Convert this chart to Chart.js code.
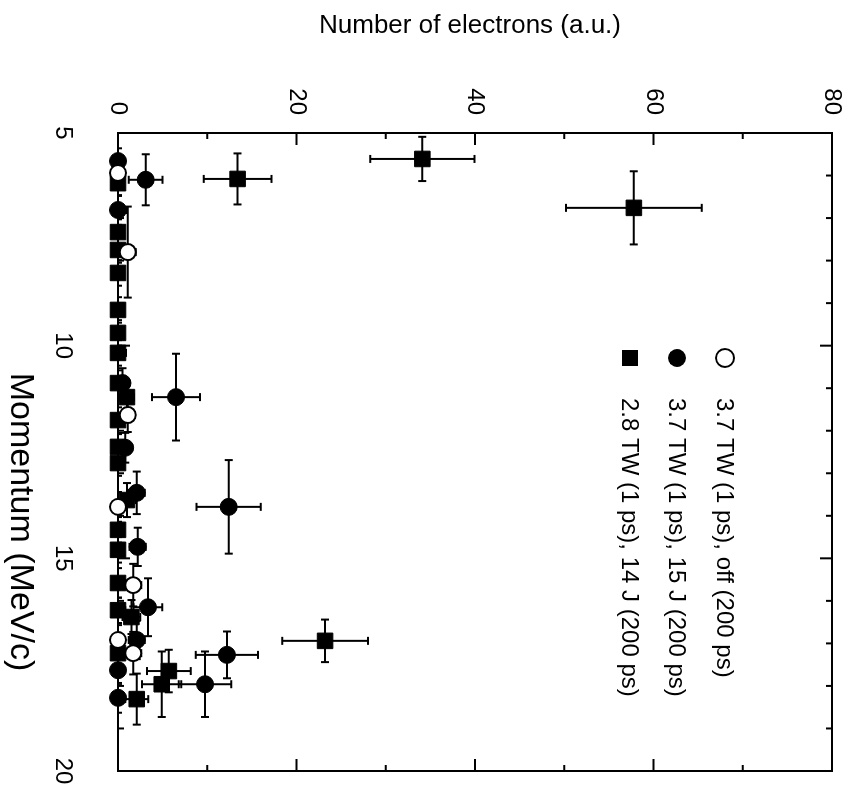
<!DOCTYPE html>
<html>
<head>
<meta charset="utf-8">
<script src="https://cdn.jsdelivr.net/npm/chart.js@4/dist/chart.umd.min.js"></script>
<style>
body { margin: 0; background: #fff; }
#wrap { position: relative; width: 854px; height: 792px; overflow: hidden; background: #fff; }
/* the plot is drawn upright and then turned a quarter turn clockwise */
#c { position: absolute; left: 0; top: 0; width: 792px; height: 854px;
     transform-origin: 0 0; transform: translate(854px, 0) rotate(90deg); }
</style>
</head>
<body>
<div id="wrap"><canvas id="c" width="792" height="854"></canvas></div>
<script>
const momentumTicks = [5, 10, 15, 20];
const electronTicks = [0, 20, 40, 60, 80];

// 3.7 TW (1 ps), off (200 ps)
const offMomentum  = [5.94, 7.80, 11.63, 13.79, 15.63, 16.92, 17.23];
const offElectrons = [0.0, 1.1, 1.1, 0.0, 1.7, 0.0, 1.7];
const offMomErr    = [0.35, 1.07, 0.4, 0.35, 0.5, 0.35, 0.5];
const offElecErr   = [0.4, 0.9, 0.8, 0.4, 0.9, 0.4, 0.9];

// 3.7 TW (1 ps), 15 J (200 ps)
const j15Momentum  = [5.66, 6.10, 6.81, 10.88, 11.21, 12.40, 13.46, 13.79, 14.73, 16.15, 16.92, 17.27, 17.63, 17.96, 18.28];
const j15Electrons = [0.0, 3.1, 0.0, 0.5, 6.5, 0.8, 2.1, 12.4, 2.2, 3.35, 2.1, 12.2, 0.0, 9.75, 0.0];
const j15MomErr    = [0.3, 0.6, 0.35, 0.35, 1.02, 0.35, 0.5, 1.1, 0.45, 0.68, 0.45, 0.55, 0.35, 0.77, 0.35];
const j15ElecErr   = [0.4, 1.9, 0.9, 0.5, 2.7, 0.6, 0.9, 3.6, 0.9, 1.6, 0.9, 3.5, 0.5, 2.95, 0.5];

// 2.8 TW (1 ps), 14 J (200 ps)
const j14Momentum  = [5.61, 6.08, 6.18, 6.76, 7.33, 7.75, 8.29, 9.16, 9.70, 10.17, 10.88, 11.21, 11.75, 12.38, 12.76, 13.63, 14.33, 14.80, 15.58, 16.22, 16.38, 16.94, 17.23, 17.65, 17.96, 18.31];
const j14Electrons = [34.1, 13.4, 0.0, 57.8, 0.0, 0.0, 0.0, 0.0, 0.0, 0.0, 0.0, 1.0, 0.0, 0.0, 0.0, 1.0, 0.0, 0.0, 0.0, 0.0, 1.5, 23.2, 0.0, 5.7, 4.9, 2.1];
const j14MomErr    = [0.52, 0.6, 0.3, 0.86, 0.3, 0.3, 0.3, 0.3, 0.3, 0.3, 0.3, 0.35, 0.3, 0.3, 0.3, 0.4, 0.3, 0.3, 0.35, 0.3, 0.4, 0.5, 0.3, 0.5, 0.77, 0.6];
const j14ElecErr   = [5.85, 3.8, 0.6, 7.6, 0.6, 0.8, 0.6, 0.6, 0.6, 0.9, 0.6, 0.8, 0.8, 0.6, 0.6, 1.0, 0.6, 0.6, 0.8, 0.8, 1.0, 4.8, 0.6, 2.45, 2.2, 1.3];

const FONT = '"Liberation Sans", Arial, Helvetica, sans-serif';
const toPoints = (xs, ys) => xs.map((v, i) => ({ x: v, y: ys[i] }));

// frame with inward ticks, then error bars under the markers
const frameAndErrors = {
    id: 'frameAndErrors',
    beforeDatasetsDraw(chart) {
        const { ctx, chartArea: a, scales: { x, y } } = chart;
        ctx.save();
        ctx.strokeStyle = '#000';
        ctx.lineWidth = 2;
        ctx.strokeRect(a.left, a.top, a.right - a.left, a.bottom - a.top);
        ctx.beginPath();
        for (let m = 5; m <= 20; m++) {
            const len = m % 5 === 0 ? 12 : 6;
            const px = x.getPixelForValue(m);
            ctx.moveTo(px, a.bottom); ctx.lineTo(px, a.bottom - len);
            ctx.moveTo(px, a.top); ctx.lineTo(px, a.top + len);
        }
        for (let e = 0; e <= 80; e += 10) {
            const len = e % 20 === 0 ? 12 : 6;
            const py = y.getPixelForValue(e);
            ctx.moveTo(a.left, py); ctx.lineTo(a.left + len, py);
            ctx.moveTo(a.right, py); ctx.lineTo(a.right - len, py);
        }
        ctx.stroke();

        ctx.beginPath();
        ctx.rect(a.left, a.top, a.right - a.left, a.bottom - a.top);
        ctx.clip();
        const cap = 4;
        chart.data.datasets.forEach(ds => {
            ctx.beginPath();
            ds.data.forEach((p, i) => {
                const px = x.getPixelForValue(p.x), py = y.getPixelForValue(p.y);
                const x0 = x.getPixelForValue(p.x - ds.errX[i]);
                const x1 = x.getPixelForValue(p.x + ds.errX[i]);
                const y0 = y.getPixelForValue(p.y - ds.errY[i]);
                const y1 = y.getPixelForValue(p.y + ds.errY[i]);
                ctx.moveTo(x0, py); ctx.lineTo(x1, py);
                ctx.moveTo(x0, py - cap); ctx.lineTo(x0, py + cap);
                ctx.moveTo(x1, py - cap); ctx.lineTo(x1, py + cap);
                ctx.moveTo(px, y0); ctx.lineTo(px, y1);
                ctx.moveTo(px - cap, y0); ctx.lineTo(px + cap, y0);
                ctx.moveTo(px - cap, y1); ctx.lineTo(px + cap, y1);
            });
            ctx.stroke();
        });
        ctx.restore();
    }
};

// axis titles and the legend
const labels = {
    id: 'labels',
    afterDraw(chart) {
        const ctx = chart.ctx;
        ctx.save();
        ctx.fillStyle = '#000';
        ctx.strokeStyle = '#000';

        ctx.font = '26px ' + FONT;
        ctx.textAlign = 'center';
        ctx.textBaseline = 'alphabetic';
        ctx.save();
        ctx.translate(33, 384);
        ctx.rotate(-Math.PI / 2);
        ctx.fillText('Number of electrons (a.u.)', 0, 0);
        ctx.restore();

        ctx.font = '34px ' + FONT;
        ctx.fillText('Momentum (MeV/c)', 522, 843);

        ctx.font = '24px ' + FONT;
        ctx.textAlign = 'left';
        ctx.textBaseline = 'middle';
        const rowY = [129, 177, 224];
        chart.data.datasets.forEach((ds, i) => {
            const cy = rowY[i], cx = 358;
            ctx.lineWidth = 2;
            ctx.beginPath();
            if (ds.pointStyle === 'rect') {
                ctx.rect(cx - 8, cy - 8, 16, 16);
                ctx.fill();
            } else {
                ctx.arc(cx, cy, 9, 0, Math.PI * 2);
                if (ds.backgroundColor === '#fff') ctx.stroke(); else ctx.fill();
            }
            ctx.fillText(ds.label, 398, cy + 1);
        });
        ctx.restore();
    }
};

new Chart(document.getElementById('c'), {
    type: 'scatter',
    data: {
        datasets: [
            {
                label: '3.7 TW (1 ps), off (200 ps)',
                data: toPoints(offMomentum, offElectrons),
                errX: offMomErr, errY: offElecErr,
                pointStyle: 'circle', pointRadius: 8,
                backgroundColor: '#fff', borderColor: '#000', borderWidth: 2,
                clip: false
            },
            {
                label: '3.7 TW (1 ps), 15 J (200 ps)',
                data: toPoints(j15Momentum, j15Electrons),
                errX: j15MomErr, errY: j15ElecErr,
                pointStyle: 'circle', pointRadius: 8.5,
                backgroundColor: '#000', borderColor: '#000', borderWidth: 1,
                clip: false
            },
            {
                label: '2.8 TW (1 ps), 14 J (200 ps)',
                data: toPoints(j14Momentum, j14Electrons),
                errX: j14MomErr, errY: j14ElecErr,
                pointStyle: 'rect', pointRadius: 11,
                backgroundColor: '#000', borderColor: '#000', borderWidth: 1,
                clip: false
            }
        ]
    },
    options: {
        responsive: false,
        animation: false,
        devicePixelRatio: 1,
        events: [],
        layout: { padding: { top: 22, right: 21, left: 0, bottom: 0 } },
        plugins: { legend: { display: false }, tooltip: { enabled: false } },
        scales: {
            x: {
                type: 'linear', min: 5, max: 20,
                afterBuildTicks: s => { s.ticks = momentumTicks.map(v => ({ value: v })); },
                afterFit: s => { s.height = 118; s.paddingLeft = 0; s.paddingRight = 0; },
                grid: { display: false, drawTicks: false },
                border: { display: false },
                ticks: { font: { family: FONT, size: 24 }, color: '#000', padding: 41, maxRotation: 0 }
            },
            y: {
                type: 'linear', min: 0, max: 80,
                afterBuildTicks: s => { s.ticks = electronTicks.map(v => ({ value: v })); },
                afterFit: s => { s.width = 133; s.paddingTop = 0; s.paddingBottom = 0; },
                grid: { display: false, drawTicks: false },
                border: { display: false },
                ticks: { font: { family: FONT, size: 24 }, color: '#000', padding: 18 }
            }
        }
    },
    plugins: [frameAndErrors, labels]
});
</script>
</body>
</html>
